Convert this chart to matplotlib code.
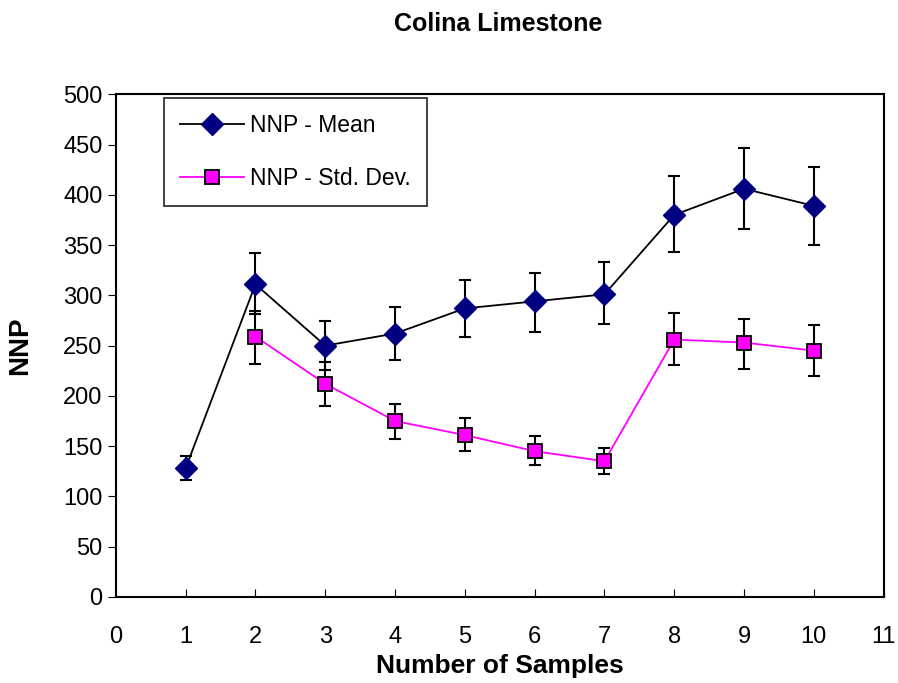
import matplotlib
matplotlib.use("Agg")
import matplotlib.pyplot as plt

plt.rcParams['font.family'] = ['Liberation Sans', 'DejaVu Sans']

# data
mean_x = [1, 2, 3, 4, 5, 6, 7, 8, 9, 10]
mean_y = [128, 311, 250, 262, 287, 294, 301, 380, 406, 389]
mean_lo = [116, 281, 226, 236, 259, 264, 271, 343, 366, 350]
mean_hi = [140, 342, 274, 288, 315, 322, 333, 419, 447, 428]

std_x = [2, 3, 4, 5, 6, 7, 8, 9, 10]
std_y = [259, 212, 175, 161, 145, 135, 256, 253, 245]
std_lo = [232, 190, 157, 145, 131, 122, 231, 227, 220]
std_hi = [284, 234, 192, 178, 160, 148, 282, 276, 270]

xticks = list(range(0, 12))
yticks = list(range(0, 501, 50))

fig = plt.figure(figsize=(8.98, 6.83), dpi=100)
ax = fig.add_axes([0.129, 0.126, 0.855, 0.736])

mean_err = [[m - l for m, l in zip(mean_y, mean_lo)], [h - m for m, h in zip(mean_y, mean_hi)]]
std_err = [[m - l for m, l in zip(std_y, std_lo)], [h - m for m, h in zip(std_y, std_hi)]]

# error bars first, then lines with markers (for clean legend handles)
ax.errorbar(mean_x, mean_y, yerr=mean_err, fmt='none', ecolor='black',
            elinewidth=1.5, capsize=4.5, capthick=1.5, zorder=2)
ax.errorbar(std_x, std_y, yerr=std_err, fmt='none', ecolor='black',
            elinewidth=1.5, capsize=4.5, capthick=1.5, zorder=2)

ax.plot(mean_x, mean_y, color='black', lw=1.3, marker='D', markersize=11,
        markerfacecolor='#000080', markeredgecolor='#000080',
        label='NNP - Mean', zorder=3)
ax.plot(std_x, std_y, color='#ff00ff', lw=1.3, marker='s', markersize=9.5,
        markerfacecolor='#ff00ff', markeredgecolor='black', markeredgewidth=1.3,
        label='NNP - Std. Dev.', zorder=3)

ax.set_xlim(0, 11)
ax.set_ylim(0, 500)
ax.set_xticks(xticks)
ax.set_yticks(yticks)
ax.tick_params(axis='x', direction='in', length=6, labelsize=17, pad=21)
ax.tick_params(axis='y', direction='out', length=6, labelsize=17)
for s in ax.spines.values():
    s.set_linewidth(1.5)

ax.set_xlabel('Number of Samples', fontsize=19, fontweight='bold', labelpad=4)
ax.set_ylabel('NNP', fontsize=20, fontweight='bold', labelpad=22)
fig.suptitle('Colina Limestone', fontsize=18, fontweight='bold', x=0.555, y=0.982)

leg = ax.legend(loc='upper left', bbox_to_anchor=(0.0625, 0.992), borderaxespad=0,
                fontsize=16.5, frameon=True, fancybox=False, edgecolor='black',
                borderpad=0.7, labelspacing=1.3, handlelength=2.8, handletextpad=0.25)
leg.get_frame().set_linewidth(1.3)

fig.savefig('out.png', dpi=100)
